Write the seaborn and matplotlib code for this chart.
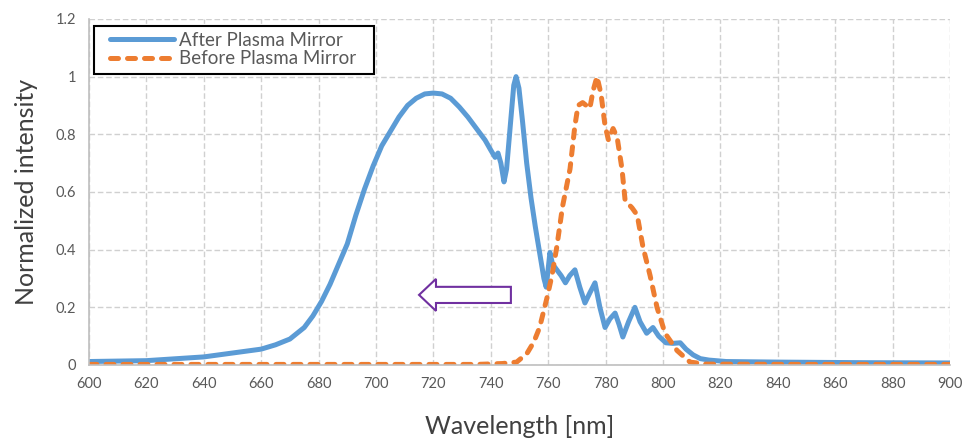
import pandas as pd
import matplotlib
matplotlib.use("Agg")
import matplotlib.pyplot as plt
from matplotlib.patches import FancyArrow, Rectangle
import seaborn as sns

sns.set_style("white")
plt.rcParams['font.family'] = ['Lato', 'DejaVu Sans']

# After plasma mirror
after_nm = [600, 620, 640, 660, 665, 670, 675, 678, 681, 684, 687, 690, 693, 696, 699, 702,
            705, 708, 711, 714, 717, 720, 723, 726, 729, 732, 735, 738, 740, 741.5, 742.5,
            743.5, 744.6, 745.5, 746.7, 748, 748.8, 749.8, 751, 752.5, 754, 755.5, 757,
            758.5, 759.3, 760.6, 761.5, 763, 764.5, 766, 767.5, 769.3, 771, 772.8, 774.5,
            776.3, 778, 779.8, 781.5, 783.3, 784.7, 786, 788, 790.2, 792, 794.3, 796.5,
            798.5, 801, 803.5, 806, 808, 810.5, 813, 816, 822, 840, 870, 900]
after_int = [0.012, 0.015, 0.028, 0.055, 0.07, 0.09, 0.13, 0.17, 0.22, 0.28, 0.35, 0.42,
             0.52, 0.61, 0.69, 0.76, 0.81, 0.86, 0.9, 0.925, 0.94, 0.943, 0.94, 0.925,
             0.895, 0.86, 0.82, 0.78, 0.745, 0.72, 0.735, 0.70, 0.635, 0.68, 0.82, 0.97,
             1.0, 0.96, 0.85, 0.7, 0.58, 0.48, 0.39, 0.3, 0.27, 0.39, 0.35, 0.33, 0.31,
             0.285, 0.31, 0.33, 0.27, 0.215, 0.25, 0.285, 0.2, 0.13, 0.16, 0.18, 0.14,
             0.097, 0.15, 0.2, 0.15, 0.11, 0.13, 0.1, 0.077, 0.075, 0.077, 0.055, 0.035,
             0.022, 0.017, 0.012, 0.01, 0.008, 0.007]

# Before plasma mirror
before_nm = [600, 650, 700, 735, 744, 749, 752.6, 755, 757, 759.5, 761.3, 763, 765, 767.6,
             769.3, 770.4, 772, 774.5, 775.6, 777, 778.4, 779.8, 781, 782.6, 784, 785.7,
             786.8, 789.2, 791, 793, 795.5, 797.9, 800.7, 804.9, 809.4, 815, 850, 900]
before_int = [0.002, 0.002, 0.002, 0.002, 0.005, 0.01, 0.04, 0.08, 0.13, 0.23, 0.31, 0.41,
              0.55, 0.68, 0.83, 0.9, 0.91, 0.89, 0.95, 1.0, 0.94, 0.83, 0.78, 0.82, 0.79,
              0.68, 0.57, 0.545, 0.52, 0.41, 0.31, 0.2, 0.11, 0.05, 0.01, 0.003, 0.002, 0.002]

x_ticks = list(range(600, 901, 20))
y_ticks = [0, 0.2, 0.4, 0.6, 0.8, 1, 1.2]
y_labels = ["0", "0.2", "0.4", "0.6", "0.8", "1", "1.2"]

df_after = pd.DataFrame({"nm": after_nm, "val": after_int})
df_before = pd.DataFrame({"nm": before_nm, "val": before_int})

fig = plt.figure(figsize=(9.65, 4.38), dpi=100)
ax = fig.add_axes([0.0922, 0.1667, 0.8923, 0.79])

sns.lineplot(data=df_after, x="nm", y="val", ax=ax, color="#5B9BD5", linewidth=3.6,
             label="After Plasma Mirror")
sns.lineplot(data=df_before, x="nm", y="val", ax=ax, color="#ED7D31", linewidth=3.6,
             label="Before Plasma Mirror")
ax.lines[0].set_solid_joinstyle("round")
ax.lines[1].set_dashes([1.6, 1.8])
ax.lines[1].set_dash_capstyle("round")
ax.lines[1].set_dash_joinstyle("round")

ax.set_xlim(600, 900)
ax.set_ylim(0, 1.2)
ax.set_xticks(x_ticks)
ax.set_yticks(y_ticks)
ax.set_yticklabels(y_labels)
ax.grid(True, color="#d0d0d0", linestyle=(0, (4, 2)), linewidth=1)
ax.tick_params(length=0, labelsize=10.5, labelcolor="#595959", pad=9)
for s in ["top", "right"]:
    ax.spines[s].set_visible(False)
for s in ["left", "bottom"]:
    ax.spines[s].set_color("#bfbfbf")
    ax.spines[s].set_linewidth(1.2)

ax.set_xlabel("Wavelength [nm]", fontsize=18, color="#404040", labelpad=17)
ax.set_ylabel("Normalized intensity", fontsize=18, color="#404040", labelpad=13)

# hollow arrow pointing to shorter wavelengths
ax.add_patch(FancyArrow(747.0, 0.243, -32.0, 0, width=0.056, head_width=0.111,
                        head_length=5.9, length_includes_head=True,
                        fc="white", ec="#7030A0", lw=1.5, zorder=5))

# legend (frame drawn separately so it has wider side padding)
leg = ax.legend(loc="upper left", bbox_to_anchor=(0.0179, 0.98), frameon=False,
                handlelength=3.4, handletextpad=0.28, borderpad=0.3, labelspacing=0.1,
                fontsize=13.5, borderaxespad=0)
for t in leg.get_texts():
    t.set_color("#595959")
ax.add_patch(Rectangle((0.0058, 0.841), 0.325, 0.139, transform=ax.transAxes,
                       fill=True, fc="white", ec="black", lw=1.5, zorder=4))
leg.set_zorder(6)

plt.savefig("out.png", dpi=100)
